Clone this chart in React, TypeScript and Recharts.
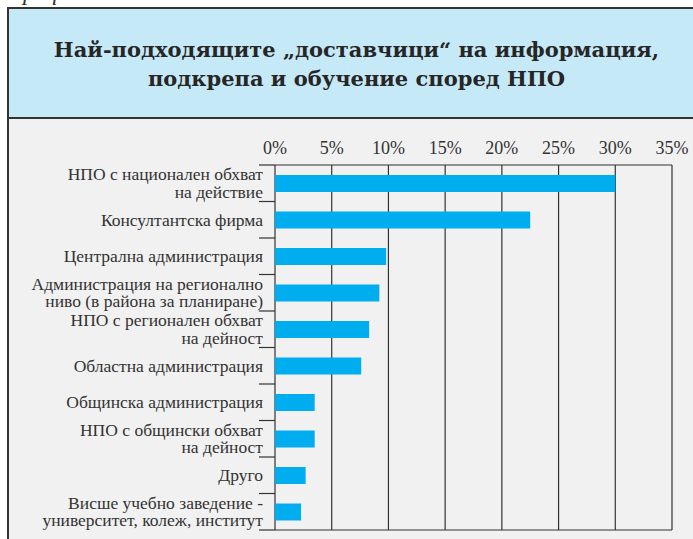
import { BarChart, Bar, XAxis, YAxis, CartesianGrid } from 'recharts'

// categories top to bottom, shares in %
const categories = [
  'НПО с национален обхват\nна действие',
  'Консултантска фирма',
  'Централна администрация',
  'Администрация на регионално\nниво (в района за планиране)',
  'НПО с регионален обхват\nна дейност',
  'Областна администрация',
  'Общинска администрация',
  'НПО с общински обхват\nна дейност',
  'Друго',
  'Висше учебно заведение -\nуниверситет, колеж, институт',
]
const shares = [30, 22.5, 9.8, 9.2, 8.3, 7.6, 3.5, 3.5, 2.7, 2.3]
const xTicks = [0, 5, 10, 15, 20, 25, 30, 35]

const data = categories.map((name, i) => ({ name, share: shares[i] }))

const W = 693
const H = 539
const PLOT_LEFT = 275
const PLOT_RIGHT = 672
const PLOT_TOP = 165
const PLOT_BOTTOM = 530
const X_AXIS_H = 30
const BAND = (PLOT_BOTTOM - PLOT_TOP) / categories.length
const INK = '#333'
const FONT = '"Liberation Serif", "DejaVu Serif", serif'
const TITLE_FONT = '"DejaVu Serif", "Liberation Serif", serif'

function CategoryTick(props: any) {
  const { y, payload, index } = props
  const lines = String(payload.value).split('\n')
  const top = y - BAND / 2
  const last = index === categories.length - 1
  return (
    <g>
      <line x1={PLOT_LEFT - 16} x2={PLOT_LEFT} y1={top} y2={top} stroke={INK} strokeWidth={1.2} />
      {last && (
        <line x1={PLOT_LEFT - 16} x2={PLOT_LEFT} y1={y + BAND / 2} y2={y + BAND / 2} stroke={INK} strokeWidth={1.2} />
      )}
      <text textAnchor="end" fontSize={17.5} fill={INK} fontFamily={FONT}>
        {lines.map((l, i) => (
          <tspan key={i} x={PLOT_LEFT - 12} y={y + (i - (lines.length - 1) / 2) * 17.5} dy="0.33em">
            {l}
          </tspan>
        ))}
      </text>
    </g>
  )
}

function PercentTick(props: any) {
  const { x, y, payload } = props
  return (
    <text x={x} y={y} dy="0.35em" textAnchor="middle" fontSize={18} fill={INK} fontFamily={FONT}>
      {payload.value}%
    </text>
  )
}

export default function App() {
  return (
    <div style={{ position: 'absolute', left: 0, top: 0, width: W, height: H, overflow: 'hidden', background: '#fff' }}>
      <div
        style={{
          position: 'absolute', left: 10, top: -21, fontFamily: FONT, fontStyle: 'italic',
          fontSize: 24, color: INK, whiteSpace: 'nowrap',
        }}
      >
        Графика 31
      </div>
      <div
        style={{
          position: 'absolute', left: 7, top: 7, width: W, height: 112,
          background: '#c6e9f8', borderTop: `2px solid ${INK}`, borderLeft: `2px solid ${INK}`,
          borderBottom: `2px solid ${INK}`, display: 'flex', alignItems: 'center', justifyContent: 'center',
          boxSizing: 'border-box',
        }}
      >
        <div
          style={{
            fontFamily: TITLE_FONT, fontWeight: 'bold', fontSize: 21, lineHeight: '29px', color: '#262626',
            textAlign: 'center', marginLeft: 4, marginTop: 2, whiteSpace: 'nowrap',
          }}
        >
          Най-подходящите „доставчици“ на информация,
          <br />
          подкрепа и обучение според НПО
        </div>
      </div>
      <div
        style={{
          position: 'absolute', left: 7, top: 119, width: W, height: H - 119,
          background: '#f1f1f1', borderLeft: `2px solid ${INK}`, boxSizing: 'border-box',
        }}
      />
      <div style={{ position: 'absolute', left: 0, top: 0 }}>
        <BarChart
          width={W}
          height={H}
          data={data}
          layout="vertical"
          margin={{ top: PLOT_TOP - X_AXIS_H, right: W - PLOT_RIGHT, bottom: H - PLOT_BOTTOM, left: 0 }}
        >
          <CartesianGrid
            horizontal={true}
            vertical={true}
            horizontalPoints={[PLOT_BOTTOM]}
            stroke={INK}
            strokeWidth={1.2}
          />
          <XAxis
            type="number"
            orientation="top"
            domain={[0, 35]}
            ticks={xTicks}
            height={X_AXIS_H}
            tickLine={false}
            tickSize={0}
            tickMargin={17}
            axisLine={{ stroke: INK, strokeWidth: 1.2 }}
            tick={<PercentTick />}
          />
          <YAxis
            type="category"
            dataKey="name"
            width={PLOT_LEFT}
            axisLine={false}
            tickLine={false}
            interval={0}
            tick={<CategoryTick />}
          />
          <Bar dataKey="share" fill="#00aeef" barSize={17} isAnimationActive={false} />
        </BarChart>
      </div>
    </div>
  )
}
